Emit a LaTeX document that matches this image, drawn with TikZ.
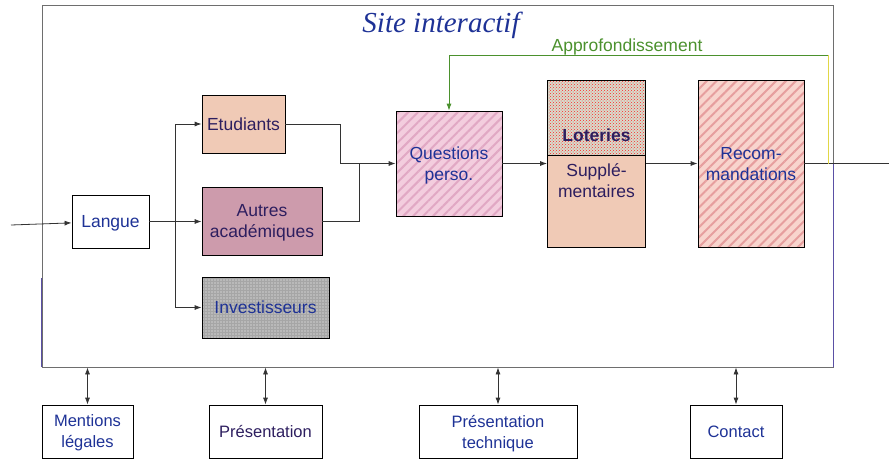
\documentclass[tikz,border=0pt]{standalone}
\usepackage{fontspec}
\setmainfont{Liberation Sans}
\newfontfamily\titlefont{Liberation Serif}
\usepackage{tikz}
\usetikzlibrary{calc,arrows.meta,positioning,patterns,patterns.meta}

\definecolor{txtblue}{RGB}{30,50,150}
\definecolor{txtdark}{RGB}{45,30,95}
\definecolor{framegray}{RGB}{110,110,110}
\definecolor{frameblue}{RGB}{90,80,165}
\definecolor{approgreen}{RGB}{75,145,45}
\definecolor{approyellow}{RGB}{225,215,70}
\definecolor{peach}{RGB}{240,202,182}
\definecolor{mauve}{RGB}{205,155,172}
\definecolor{pinkq}{RGB}{243,205,222}
\definecolor{pinkstripe}{RGB}{225,168,196}
\definecolor{recofill}{RGB}{248,212,205}
\definecolor{recostripe}{RGB}{230,158,158}
\definecolor{lotfill}{RGB}{215,220,205}

\begin{document}
\begin{tikzpicture}[x=1pt,y=-1pt,>={Latex[length=7pt,width=5pt]},
  box/.style={draw,thick,inner sep=0pt,align=center,text=txtblue,font=\fontsize{17.5}{21}\selectfont},
  lien/.style={draw=black!80,thick},
  bas/.style={box,minimum height=53,font=\fontsize{16.5}{21}\selectfont},
  every node/.append style={text depth=0pt}]
  \useasboundingbox (0,0) rectangle (889,461);

  % cadre du site
  \node[draw=framegray,thick,minimum width=791,minimum height=362,inner sep=0] (site) at (437.5,186) {};
  \draw[frameblue,thick] (site.south west) -- ++(0,-89);
  \draw[frameblue,thick] (site.south east) -- ++(0,-204);
  \node[text=txtblue,font=\titlefont\itshape\fontsize{29}{30}\selectfont] (titre) at (441,22) {Site interactif};

  \node[box,minimum width=77,minimum height=53] (lang) at (110.5,221.5) {Langue};
  \node[box,fill=peach,text=txtdark,minimum width=83,minimum height=58] (etu) at (243.5,124) {Etudiants};
  \node[box,fill=mauve,text=txtdark,minimum width=120,minimum height=68] (aut) at (262,221) {Autres\\académiques};
  \node[box,preaction={fill=gray!55},preaction={pattern=grid,pattern color=gray!70},minimum width=127,minimum height=61] (inv) at (265.5,307.5) {Investisseurs};

  \node[box,preaction={fill=pinkq},preaction={pattern={Lines[angle=45,distance=7pt,line width=2pt]},pattern color=pinkstripe},minimum width=106,minimum height=105] (quest) at (449,163.5) {Questions\\perso.};
  \node[box,preaction={fill=lotfill},preaction={pattern=crosshatch dots,pattern color=red!85},minimum width=98,minimum height=75] (lot) at (596.5,117.5) {};
  \node[text=txtdark,font=\fontsize{17.5}{21}\selectfont\bfseries] (lottxt) at (596.5,135) {Loteries};
  \node[box,fill=peach,minimum width=98,minimum height=92] (supp) at (596.5,201) {};
  \node[text=txtdark,align=center,font=\fontsize{17.5}{21}\selectfont] (supptxt) at (596.5,181) {Supplé-\\mentaires};
  \node[box,preaction={fill=recofill},preaction={pattern={Lines[angle=45,distance=7pt,line width=2pt]},pattern color=recostripe},minimum width=106,minimum height=167] (reco) at (751,163.5) {Recom-\\mandations};

  \node[bas,minimum width=91] (ment) at (87.5,431.5) {Mentions\\légales};
  \node[bas,text=txtdark,minimum width=113] (pres) at (265.5,431.5) {Présentation};
  \node[bas,minimum width=158] (prtech) at (498,431.5) {Présentation\\technique};
  \node[bas,minimum width=92] (cont) at (736,431.5) {Contact};

  \coordinate (in) at (11,225);
  \coordinate (br) at (175,221.5);
  \coordinate (mrg) at (340,163.5);
  \coordinate (ret) at (828,163.5);
  \coordinate (out) at (889,163.5);

  \draw[lien,->] (in) -- (lang);
  \draw[lien] (lang) -- (br);
  \draw[lien,->] (br) |- (etu);
  \draw[lien,->] (br) -- (br -| aut.west);
  \draw[lien,->] (br) |- (inv);
  \draw[lien,->] (etu) -| (mrg) -- (quest);
  \draw[lien] (aut) -| (359,163.5);
  \draw[lien,->] (quest) -- (quest -| supp.west);
  \draw[lien,->] (quest -| supp.east) -- (reco);
  \draw[lien] (reco) -- (out);

  % retour
  \draw[approyellow,thick] (ret) -- (828,55);
  \draw[approgreen,thick,->] (828,55) -| (quest.north);
  \node[text=approgreen,font=\fontsize{17.5}{21}\selectfont] (appro) at (627,45) {Approfondissement};

  \foreach \b in {ment,pres,prtech,cont}
    \draw[lien,<->] (\b.north |- site.south) -- (\b);
\end{tikzpicture}
\end{document}
